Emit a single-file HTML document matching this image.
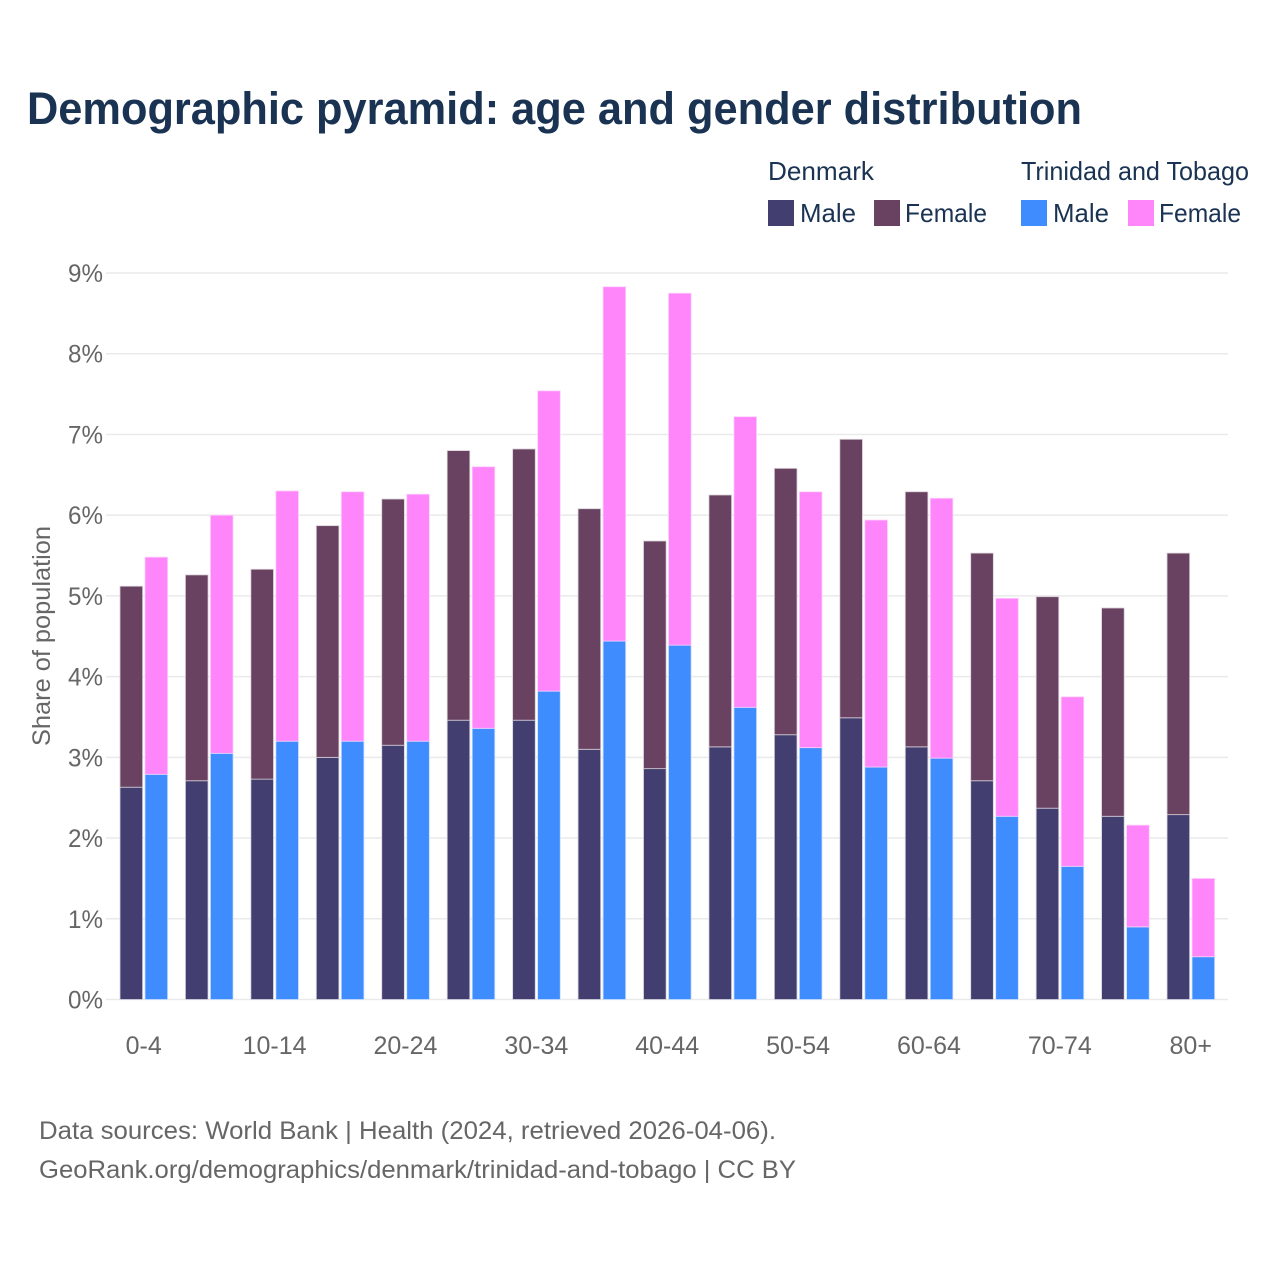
<!DOCTYPE html>
<html lang="en">
<head>
<meta charset="utf-8">
<title>Demographic pyramid</title>
<style>
html,body{margin:0;padding:0;background:#fff;}
svg{display:block;font-family:"Liberation Sans",sans-serif;}
</style>
</head>
<body>
<svg id="chart" width="1280" height="1280" viewBox="0 0 1280 1280" xmlns="http://www.w3.org/2000/svg">
  <rect x="0" y="0" width="1280" height="1280" fill="#fff"/>
  <text x="27" y="124" font-size="45" font-weight="700" fill="#1a3352" textLength="1055" lengthAdjust="spacingAndGlyphs">Demographic pyramid: age and gender distribution</text>

  <g font-size="26" fill="#1a3352">
    <text x="768" y="180" textLength="106" lengthAdjust="spacingAndGlyphs">Denmark</text>
    <text x="1021" y="180" textLength="228" lengthAdjust="spacingAndGlyphs">Trinidad and Tobago</text>
    <rect x="768" y="200" width="26" height="26" fill="#423f70"/>
    <text x="800" y="222" textLength="56" lengthAdjust="spacingAndGlyphs">Male</text>
    <rect x="874" y="200" width="26" height="26" fill="#684260"/>
    <text x="905" y="222" textLength="82" lengthAdjust="spacingAndGlyphs">Female</text>
    <rect x="1021" y="200" width="26" height="26" fill="#3f8cff"/>
    <text x="1053" y="222" textLength="56" lengthAdjust="spacingAndGlyphs">Male</text>
    <rect x="1128" y="200" width="26" height="26" fill="#ff85fb"/>
    <text x="1159" y="222" textLength="82" lengthAdjust="spacingAndGlyphs">Female</text>
  </g>

  <g id="grid"></g>
  <g id="bars"></g>
  <g id="yticks"></g>
  <g id="xticks"></g>

  <text transform="translate(50,636) rotate(-90)" text-anchor="middle" font-size="25" fill="#666" textLength="220" lengthAdjust="spacingAndGlyphs">Share of population</text>

  <text x="39" y="1139" font-size="25" fill="#666" textLength="737" lengthAdjust="spacingAndGlyphs">Data sources: World Bank | Health (2024, retrieved 2026-04-06).</text>
  <text x="39" y="1178" font-size="25" fill="#666" textLength="757" lengthAdjust="spacingAndGlyphs">GeoRank.org/demographics/denmark/trinidad-and-tobago | CC BY</text>
</svg>
<script>
const categories = ["0-4","5-9","10-14","15-19","20-24","25-29","30-34","35-39","40-44","45-49","50-54","55-59","60-64","65-69","70-74","75-79","80+"];
const tickLabels = ["0-4","10-14","20-24","30-34","40-44","50-54","60-64","70-74","80+"];
const yTicks = [0,1,2,3,4,5,6,7,8,9];
const denmarkMale = [2.63,2.71,2.73,3.00,3.15,3.46,3.46,3.10,2.86,3.13,3.28,3.49,3.13,2.71,2.37,2.27,2.29];
const denmarkFemale = [2.49,2.55,2.60,2.87,3.05,3.34,3.36,2.98,2.82,3.12,3.30,3.45,3.16,2.82,2.62,2.58,3.24];
const trinidadMale = [2.79,3.05,3.20,3.20,3.20,3.36,3.82,4.44,4.39,3.62,3.12,2.88,2.99,2.27,1.65,0.90,0.53];
const trinidadFemale = [2.69,2.95,3.10,3.09,3.06,3.24,3.72,4.39,4.36,3.60,3.17,3.06,3.22,2.70,2.10,1.26,0.97];

const NS = "http://www.w3.org/2000/svg";
function yScale(v){ return 999.5 - v * 80.72; }
function xScale(i){ return 120 + i * 65.44; }
const barWidth = 22.6;
const barGap = 25;

function make(tag, attrs, parent){
  const el = document.createElementNS(NS, tag);
  for (const k in attrs) el.setAttribute(k, attrs[k]);
  parent.appendChild(el);
  return el;
}

const grid = document.getElementById("grid");
const yGroup = document.getElementById("yticks");
yTicks.forEach(function(t){
  const line = make("line", {x1:106, x2:1228, y1:yScale(t), y2:yScale(t), stroke:"#eaeaea", "stroke-width":1.5}, grid);
  
  
  const label = make("text", {x:103, y:yScale(t)+9, "text-anchor":"end", "font-size":25, fill:"#666", textLength:35, lengthAdjust:"spacingAndGlyphs"}, yGroup);
  label.textContent = t + "%";
  
  
});

const bars = document.getElementById("bars");
function drawBar(x, base, value, fill, stroke){
  const rect = make("rect", {
    x:x, y:yScale(base+value), width:barWidth, height:yScale(base)-yScale(base+value),
    fill:fill, stroke:stroke, "stroke-width":0.8
  }, bars);
  
  
}
categories.forEach(function(c, i){
  const x = xScale(i);
  drawBar(x, 0, denmarkMale[i], "#423f70", "#d4d3de");
  drawBar(x, denmarkMale[i], denmarkFemale[i], "#684260", "#d8cfd6");
  drawBar(x+barGap, 0, trinidadMale[i], "#3f8cff", "#c9dfff");
  drawBar(x+barGap, trinidadMale[i], trinidadFemale[i], "#ff85fb", "#ffd0fd");
});

const xGroup = document.getElementById("xticks");
categories.forEach(function(c, i){
  if (tickLabels.indexOf(c) < 0) return;
  const label = make("text", {x:xScale(i)+23.7, y:1054, "text-anchor":"middle", "font-size":25, fill:"#666"}, xGroup);
  label.textContent = c;
  
  
});
</script>
</body>
</html>
